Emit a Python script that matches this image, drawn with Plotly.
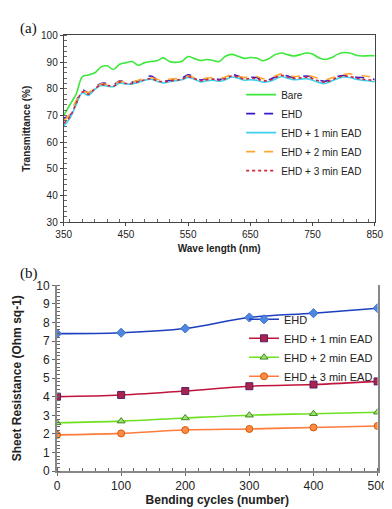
import plotly.graph_objects as go

# ---------------- Panel (a) data ----------------
wavelength = list(range(350, 851, 10))
bare = [70.0, 74.0, 78.0, 84.5, 85.2, 86.0, 88.2, 88.6, 87.2, 89.2, 89.8,
        90.2, 88.8, 89.8, 90.2, 90.5, 91.6, 90.2, 89.9, 90.3, 92.1,
        91.3, 90.6, 91.0, 90.6, 90.2, 92.2, 92.9, 92.2, 91.4, 91.7,
        91.5, 90.5, 91.3, 92.8, 93.4, 92.8, 92.3, 92.8, 93.4, 93.0,
        91.6, 91.0, 91.6, 92.9, 93.6, 93.4, 92.6, 92.3, 92.4, 92.4]
ehd = [69.0, 70.0, 75.0, 79.5, 78.5, 80.5, 82.0, 82.0, 81.5, 83.0, 82.5,
       82.5, 83.0, 84.0, 84.8, 83.5, 82.8, 83.2, 83.5, 84.0, 85.2,
       84.5, 83.3, 83.8, 84.0, 83.5, 84.2, 85.3, 84.8, 84.0, 84.3,
       84.2, 83.2, 83.4, 84.4, 85.3, 84.8, 84.2, 84.5, 84.8, 84.3,
       83.3, 82.8, 83.6, 84.6, 85.0, 84.8, 84.3, 84.2, 84.0, 83.5]
ehd_1min = [66.0, 69.0, 74.0, 78.5, 77.5, 79.8, 81.2, 81.0, 80.8, 82.2, 81.8,
            81.8, 82.4, 83.2, 83.6, 82.8, 82.2, 82.6, 83.0, 83.4, 84.2,
            83.6, 82.6, 83.0, 83.2, 82.8, 83.4, 84.4, 84.0, 83.2, 83.4,
            83.2, 82.5, 82.7, 83.6, 84.6, 84.0, 83.4, 83.6, 83.8, 83.2,
            82.4, 82.0, 82.8, 83.8, 84.4, 84.2, 83.6, 83.2, 83.0, 82.6]
ehd_2min = [68.0, 70.5, 75.5, 79.0, 78.6, 80.4, 81.8, 81.6, 81.4, 82.8, 82.4,
            82.6, 83.2, 84.0, 84.2, 83.6, 83.2, 83.6, 83.8, 84.2, 84.8,
            84.2, 83.6, 84.0, 84.2, 83.8, 84.4, 85.2, 84.8, 84.2, 84.6,
            84.6, 83.8, 84.0, 84.8, 85.5, 85.0, 84.6, 84.8, 85.0, 84.6,
            83.8, 83.4, 84.0, 84.9, 85.4, 85.6, 85.2, 84.9, 84.6, 84.2]
ehd_3min = [67.0, 69.5, 74.5, 78.8, 78.0, 80.0, 81.5, 81.3, 81.0, 82.5, 82.0,
            82.0, 82.6, 83.4, 83.8, 83.0, 82.6, 82.9, 83.2, 83.6, 84.5,
            83.8, 83.0, 83.4, 83.6, 83.2, 83.8, 84.8, 84.4, 83.6, 83.9,
            83.8, 83.0, 83.2, 84.1, 85.0, 84.4, 83.9, 84.1, 84.3, 83.8,
            82.9, 82.5, 83.2, 84.2, 84.8, 84.6, 84.0, 83.6, 83.4, 83.0]

# ---------------- Panel (b) data ----------------
cycles = [0, 100, 200, 300, 400, 500]
rs_ehd = [7.40, 7.45, 7.68, 8.27, 8.50, 8.77]
rs_1min = [4.01, 4.10, 4.31, 4.57, 4.66, 4.83]
rs_2min = [2.60, 2.69, 2.86, 3.01, 3.09, 3.17]
rs_3min = [1.95, 2.03, 2.21, 2.27, 2.35, 2.43]

names_a = ["Bare", "EHD", "EHD + 1 min EAD", "EHD + 2 min EAD", "EHD + 3 min EAD"]
names_b = ["EHD", "EHD + 1 min EAD", "EHD + 2 min EAD", "EHD + 3 min EAD"]

fig = go.Figure()

series_a = [bare, ehd, ehd_1min, ehd_2min, ehd_3min]
colors_a = ["#3be83b", "#3a16c8", "#3fd0ee", "#ffa733", "#d0243a"]
dashes_a = ["solid", "dash", "solid", "dash", "dot"]
for name, ys, c, d in zip(names_a, series_a, colors_a, dashes_a):
    fig.add_trace(go.Scatter(x=wavelength, y=ys, name=name, mode="lines",
                             line=dict(color=c, width=1.6, dash=d, shape="spline"),
                             xaxis="x", yaxis="y", legend="legend"))

series_b = [rs_ehd, rs_1min, rs_2min, rs_3min]
line_b = ["#1d3fbf", "#c0143c", "#6ee022", "#ff7c3c"]
fill_b = ["#4f86e0", "#a8244e", "#a4e070", "#ff8a40"]
edge_b = ["#3a6fd0", "#5a2060", "#3a8a20", "#d05a10"]
sym_b = ["diamond", "square", "triangle-up", "circle"]
for name, ys, lc, fc, ec, s in zip(names_b, series_b, line_b, fill_b, edge_b, sym_b):
    fig.add_trace(go.Scatter(x=cycles, y=ys, name=name, mode="lines+markers",
                             line=dict(color=lc, width=1.6, shape="spline"),
                             marker=dict(symbol=s, size=7, color=fc,
                                         line=dict(color=ec, width=1)),
                             xaxis="x2", yaxis="y2", legend="legend2"))

W, H = 392, 509
tickfont_a = dict(family="Arial, Liberation Sans", size=10, color="#222")
tickfont_b = dict(family="Arial, Liberation Sans", size=12, color="#222")

fig.update_layout(
    width=W, height=H,
    margin=dict(l=0, r=0, t=0, b=0),
    paper_bgcolor="white", plot_bgcolor="white",
    font=dict(family="Arial, Liberation Sans", color="#222"),
    xaxis=dict(domain=[50 / W, 376 / W], anchor="y", range=[350, 850],
               tickmode="array", tickvals=[350, 450, 550, 650, 750, 850],
               ticks="outside", ticklen=3, tickcolor="#444",
               minor=dict(dtick=20, ticks="inside", ticklen=3, tickcolor="#666"),
               showgrid=False, zeroline=False,
               showline=True, linecolor="#444", linewidth=1, mirror=True,
               tickfont=tickfont_a,
               title=dict(text="<b>Wave length (nm)</b>",
                          font=dict(size=10, family="Arial, Liberation Sans"),
                          standoff=5)),
    yaxis=dict(domain=[1 - 213 / H, 1 - 21 / H], anchor="x", range=[30, 100],
               dtick=10, ticks="outside", ticklen=3, tickcolor="#444",
               minor=dict(dtick=2, ticks="inside", ticklen=3, tickcolor="#666"),
               showgrid=False, zeroline=False,
               showline=True, linecolor="#444", linewidth=1, mirror=True,
               tickfont=tickfont_a,
               title=dict(text="<b>Transmittance (%)</b>",
                          font=dict(size=10, family="Arial, Liberation Sans"),
                          standoff=8)),
    xaxis2=dict(domain=[43 / W, 379 / W], anchor="y2", range=[0, 500],
                dtick=100, ticks="outside", ticklen=3, tickcolor="#666",
                minor=dict(dtick=20, ticks="inside", ticklen=3, tickcolor="#666"),
                showgrid=False, zeroline=False,
                showline=True, linecolor="#888", linewidth=1.5,
                tickfont=tickfont_b,
                title=dict(text="<b>Bending cycles (number)</b>",
                           font=dict(size=12, family="Arial, Liberation Sans"),
                           standoff=2)),
    yaxis2=dict(domain=[1 - 469 / H, 1 - 278 / H], anchor="x2", range=[0, 10],
                dtick=1, ticks="outside", ticklen=3, tickcolor="#666",
                minor=dict(dtick=0.2, ticks="inside", ticklen=3, tickcolor="#666"),
                showgrid=False, zeroline=False,
                showline=True, linecolor="#888", linewidth=1.8, mirror=True,
                tickfont=tickfont_b,
                title=dict(text="<b>Sheet Resistance (Ohm sq-1)</b>",
                           font=dict(size=12, family="Arial, Liberation Sans"),
                           standoff=12)),
    legend=dict(x=236 / W, y=1 - 67 / H, xanchor="left", yanchor="top",
                bgcolor="rgba(0,0,0,0)", tracegroupgap=0,
                font=dict(size=10, family="Arial, Liberation Sans", color="#222"),
                itemwidth=30),
    legend2=dict(x=239 / W, y=1 - 298 / H, xanchor="left", yanchor="top",
                 bgcolor="rgba(0,0,0,0)", tracegroupgap=0,
                 font=dict(size=11, family="Arial, Liberation Sans", color="#222"),
                 itemwidth=30),
    annotations=[
        dict(text="(a)", x=2 / W, y=1 - 3 / H, xref="paper", yref="paper",
             xanchor="left", yanchor="top", showarrow=False,
             font=dict(size=15, family="Liberation Serif, DejaVu Serif", color="#111")),
        dict(text="(b)", x=2 / W, y=1 - 255 / H, xref="paper", yref="paper",
             xanchor="left", yanchor="top", showarrow=False,
             font=dict(size=15, family="Liberation Serif, DejaVu Serif", color="#111")),
    ],
)

fig.write_html("out.html")
